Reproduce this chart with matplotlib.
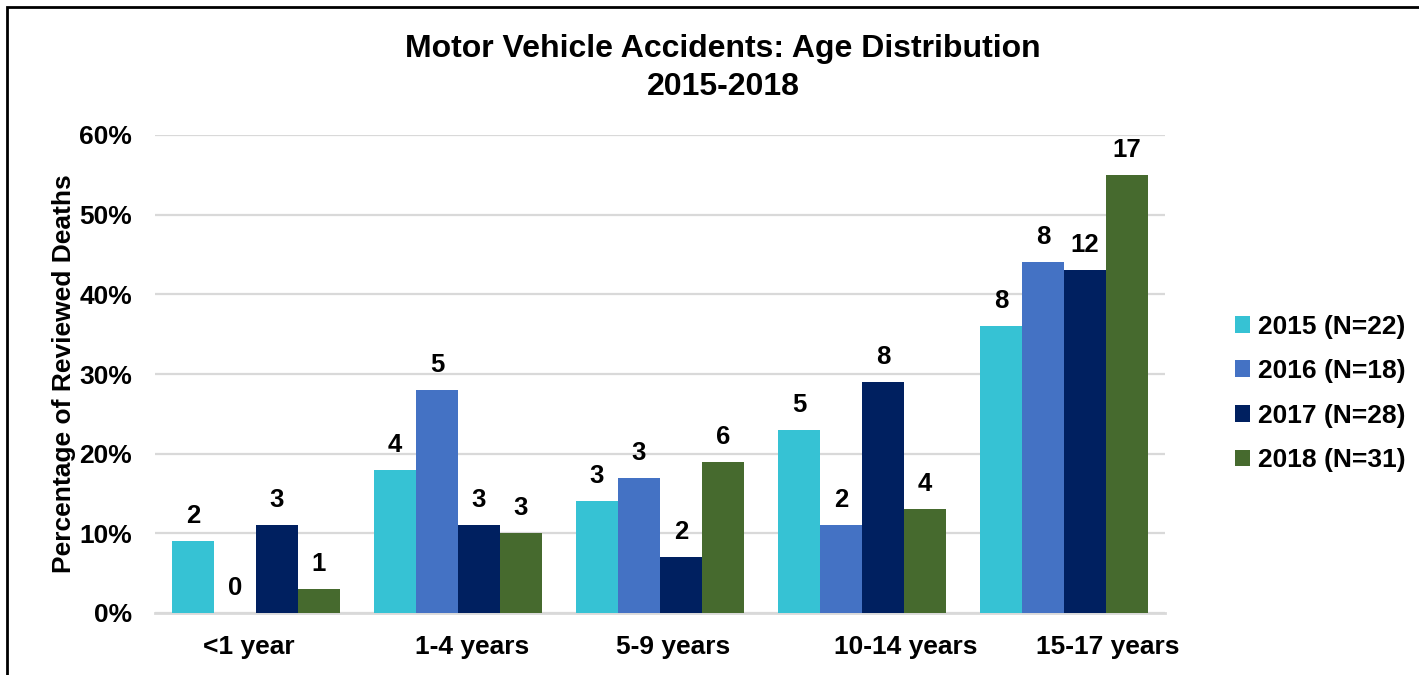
import numpy as np
import matplotlib
matplotlib.use("Agg")
import matplotlib.pyplot as plt
from matplotlib.patches import Rectangle

plt.rcParams['font.family'] = ['Liberation Sans', 'DejaVu Sans']
plt.rcParams['font.weight'] = 'bold'

categories = ['<1 year', '1-4 years', '5-9 years', '10-14 years', '15-17 years']
series = ['2015 (N=22)', '2016 (N=18)', '2017 (N=28)', '2018 (N=31)']
pct_2015 = [9, 18, 14, 23, 36]
pct_2016 = [0, 28, 17, 11, 44]
pct_2017 = [11, 11, 7, 29, 43]
pct_2018 = [3, 10, 19, 13, 55]
cnt_2015 = [2, 4, 3, 5, 8]
cnt_2016 = [0, 5, 3, 2, 8]
cnt_2017 = [3, 3, 2, 8, 12]
cnt_2018 = [1, 3, 6, 4, 17]
colors = ['#36C2D4', '#4472C4', '#002060', '#466A2E']

pcts = [pct_2015, pct_2016, pct_2017, pct_2018]
cnts = [cnt_2015, cnt_2016, cnt_2017, cnt_2018]

W, H = 1419, 675
fig = plt.figure(figsize=(W / 100, H / 100), dpi=100)
ax = fig.add_axes([155 / W, 62 / H, 1010 / W, 478 / H])

x = np.arange(len(categories))
bw = 0.208
for i, (name, vals, labs) in enumerate(zip(series, pcts, cnts)):
    pos = x + (i - 1.5) * bw
    ax.bar(pos, vals, width=bw, color=colors[i], label=name, zorder=3)
    for px, v, lab in zip(pos, vals, labs):
        ax.annotate(str(lab), (px, v), xytext=(0, 13), textcoords='offset points',
                    ha='center', va='baseline', fontsize=18.5, fontweight='bold')

ax.set_xlim(-0.5, 4.5)
ax.set_ylim(0, 60)
ax.set_yticks(range(0, 61, 10))
ax.set_yticklabels([f'{v}%' for v in range(0, 61, 10)])
ax.yaxis.grid(True, color='#d9d9d9', linewidth=1.6, zorder=0)
ax.set_axisbelow(True)
for s in ['top', 'right', 'left']:
    ax.spines[s].set_visible(False)
ax.spines['bottom'].set_color('#d9d9d9')
ax.spines['bottom'].set_linewidth(2)
ax.tick_params(axis='y', length=0, pad=16.5, labelsize=19)
ax.tick_params(axis='x', length=0, pad=16, labelsize=19)

# category labels sit a bit off-center, as in the original
label_shift = [-0.035, 0.069, 0.064, 0.218, 0.218]
ax.set_xticks(x + np.array(label_shift))
ax.set_xticklabels(categories)

ax.set_ylabel('Percentage of Reviewed Deaths', fontsize=19, fontweight='bold', labelpad=2)

fig.text(723 / W, 1 - 49 / H, 'Motor Vehicle Accidents: Age Distribution',
         ha='center', va='center', fontsize=23, fontweight='bold')
fig.text(723 / W, 1 - 87 / H, '2015-2018',
         ha='center', va='center', fontsize=23, fontweight='bold')

fig.legend(loc='upper left', bbox_to_anchor=(1224 / W, 1 - 304 / H), frameon=False,
           fontsize=19, handlelength=0.6, handleheight=0.6, handletextpad=0.3,
           labelspacing=0.78, borderaxespad=0)

fig.add_artist(Rectangle((6.5 / W, -0.1), 1.2, 1.1 - 7.5 / H, transform=fig.transFigure,
                         fill=False, edgecolor='black', linewidth=2))

fig.savefig('out.png', dpi=100)
